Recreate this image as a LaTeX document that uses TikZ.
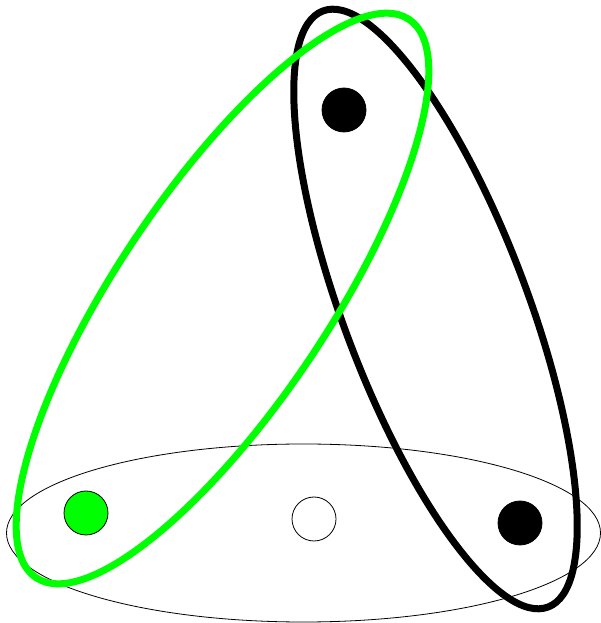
\documentclass[tikz,border=0pt]{standalone}
\begin{document}
\begin{tikzpicture}[x=1pt,y=1pt,
  vertex/.style={circle,draw=black,line width=0.8pt,minimum size=44pt,inner sep=0pt},
  hyperedge/.style={line width=7pt},
  thinedge/.style={line width=0.8pt}]
\useasboundingbox (0,0) rectangle (601,623);
% thin hyperedge
\draw[thinedge] (303.5,90) ellipse [x radius=297pt, y radius=89pt];
% vertices
\node[vertex,fill=green] (v1) at (86,110) {};
\node[vertex,fill=white] (v2) at (314,104) {};
\node[vertex,fill=black] (v3) at (520,100) {};
\node[vertex,fill=black] (v4) at (344,513) {};
% thick hyperedges
\draw[hyperedge,black] (435.5,314) ellipse [x radius=318.6pt, y radius=92pt, rotate=-69.3];
\draw[hyperedge,green] (222.5,324.5) ellipse [x radius=335.7pt, y radius=106pt, rotate=56.25];
\end{tikzpicture}
\end{document}
